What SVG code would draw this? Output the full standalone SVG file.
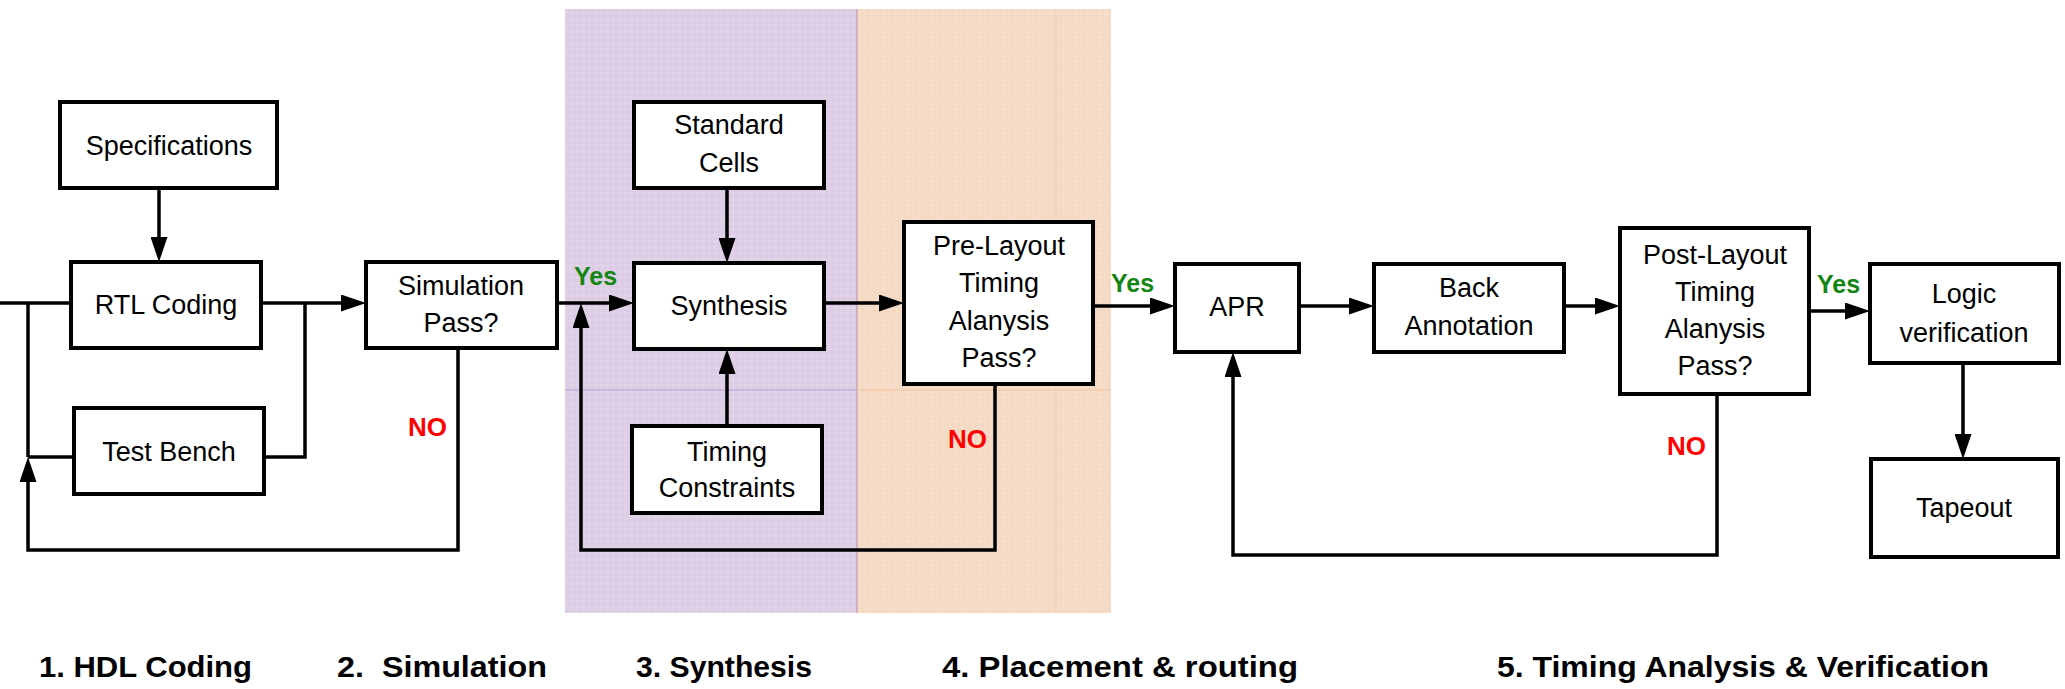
<svg xmlns="http://www.w3.org/2000/svg" width="2065" height="689" viewBox="0 0 2065 689">
  <defs>
    <style>
      .box { fill: #ffffff; stroke: #000000; stroke-width: 4; stroke-linejoin: miter; }
      .lbl { font-family: "Liberation Sans", Arial, sans-serif; font-size: 27px; fill: #000000; text-anchor: middle; }
      .wire { fill: none; stroke: #000000; stroke-width: 3.5; stroke-linejoin: miter; }
      .arrow { marker-end: url(#head); }
      .yes { font-family: "Liberation Sans", Arial, sans-serif; font-size: 25px; font-weight: bold; fill: #128512; }
      .no { font-family: "Liberation Sans", Arial, sans-serif; font-size: 26px; font-weight: bold; fill: #ff0000; }
      .stage { font-family: "Liberation Sans", Arial, sans-serif; font-size: 29px; font-weight: bold; fill: #000000; }
    </style>
    <marker id="head" markerUnits="userSpaceOnUse" markerWidth="25" markerHeight="17" refX="15" refY="8.5" orient="auto">
      <path d="M0,0 L25,8.5 L0,17 Z" fill="#000000"/>
    </marker>
    <pattern id="weave" width="6" height="6" patternUnits="userSpaceOnUse">
      <rect width="3" height="6" fill="#ffffff" opacity="0.07"/>
      <rect width="6" height="3" fill="#ffffff" opacity="0.07"/>
    </pattern>
  </defs>

  <rect width="2065" height="689" fill="#ffffff"/>

  <!-- stage bands: synthesis and placement & routing -->
  <g id="bands">
    <rect x="565" y="9" width="292" height="604" fill="#dbcbe5"/>
    <rect x="857" y="9" width="254" height="604" fill="#f5d8c2"/>
    <rect x="565" y="9" width="546" height="604" fill="url(#weave)"/>
    <line x1="857" y1="9" x2="857" y2="613" stroke="#c9a5bb" stroke-width="1.5"/>
    <line x1="565" y1="390" x2="857" y2="390" stroke="#bba2d8" stroke-width="1"/>
    <line x1="857" y1="390" x2="1111" y2="390" stroke="#f0c29e" stroke-width="1"/>
    <line x1="1056" y1="9" x2="1056" y2="613" stroke="#f2ceb2" stroke-width="1"/>
  </g>

  <!-- connectors -->
  <g id="connectors">
    <path class="wire" d="M0,303 H71"/>
    <path class="wire arrow" d="M159,188 V252"/>
    <path class="wire arrow" d="M261,303 H356"/>
    <path class="wire" d="M305,303 V457 H264"/>
    <path class="wire" d="M74,457 H28"/>
    <path class="wire" d="M28,457 V303"/>
    <path class="wire arrow" d="M458,348 V550 H28 V467"/>
    <path class="wire arrow" d="M557,303 H624"/>
    <path class="wire arrow" d="M995,384 V550 H581 V313"/>
    <path class="wire arrow" d="M727,188 V253"/>
    <path class="wire arrow" d="M727,426 V359"/>
    <path class="wire arrow" d="M824,303 H894"/>
    <path class="wire arrow" d="M1093,306 H1165"/>
    <path class="wire arrow" d="M1299,306 H1364"/>
    <path class="wire arrow" d="M1564,306 H1610"/>
    <path class="wire arrow" d="M1809,311 H1860"/>
    <path class="wire arrow" d="M1963,363 V449"/>
    <path class="wire arrow" d="M1717,394 V555 H1233 V362"/>

    <text class="yes" x="574" y="285">Yes</text>
    <text class="yes" x="1111" y="292">Yes</text>
    <text class="yes" x="1817" y="293">Yes</text>
    <text class="no" x="408" y="436">NO</text>
    <text class="no" x="948" y="448">NO</text>
    <text class="no" x="1667" y="455">NO</text>
  </g>

  <!-- flow nodes -->
  <g id="specifications">
    <rect class="box" x="60" y="102" width="217" height="86"/>
    <text class="lbl" x="169" y="155">Specifications</text>
  </g>
  <g id="rtl-coding">
    <rect class="box" x="71" y="262" width="190" height="86"/>
    <text class="lbl" x="166" y="314">RTL Coding</text>
  </g>
  <g id="test-bench">
    <rect class="box" x="74" y="408" width="190" height="86"/>
    <text class="lbl" x="169" y="461">Test Bench</text>
  </g>
  <g id="simulation">
    <rect class="box" x="366" y="262" width="191" height="86"/>
    <text class="lbl" x="461" y="295">Simulation</text>
    <text class="lbl" x="461" y="332">Pass?</text>
  </g>
  <g id="standard-cells">
    <rect class="box" x="634" y="102" width="190" height="86"/>
    <text class="lbl" x="729" y="134">Standard</text>
    <text class="lbl" x="729" y="172">Cells</text>
  </g>
  <g id="synthesis">
    <rect class="box" x="634" y="263" width="190" height="86"/>
    <text class="lbl" x="729" y="315">Synthesis</text>
  </g>
  <g id="timing-constraints">
    <rect class="box" x="632" y="426" width="190" height="87"/>
    <text class="lbl" x="727" y="461">Timing</text>
    <text class="lbl" x="727" y="497">Constraints</text>
  </g>
  <g id="pre-layout-timing">
    <rect class="box" x="904" y="222" width="189" height="162"/>
    <text class="lbl" x="999" y="255">Pre-Layout</text>
    <text class="lbl" x="999" y="292">Timing</text>
    <text class="lbl" x="999" y="330">Alanysis</text>
    <text class="lbl" x="999" y="367">Pass?</text>
  </g>
  <g id="apr">
    <rect class="box" x="1175" y="264" width="124" height="88"/>
    <text class="lbl" x="1237" y="316">APR</text>
  </g>
  <g id="back-annotation">
    <rect class="box" x="1374" y="264" width="190" height="88"/>
    <text class="lbl" x="1469" y="297">Back</text>
    <text class="lbl" x="1469" y="335">Annotation</text>
  </g>
  <g id="post-layout-timing">
    <rect class="box" x="1620" y="228" width="189" height="166"/>
    <text class="lbl" x="1715" y="264">Post-Layout</text>
    <text class="lbl" x="1715" y="301">Timing</text>
    <text class="lbl" x="1715" y="338">Alanysis</text>
    <text class="lbl" x="1715" y="375">Pass?</text>
  </g>
  <g id="logic-verification">
    <rect class="box" x="1870" y="264" width="189" height="99"/>
    <text class="lbl" x="1964" y="303">Logic</text>
    <text class="lbl" x="1964" y="342">verification</text>
  </g>
  <g id="tapeout">
    <rect class="box" x="1871" y="459" width="187" height="98"/>
    <text class="lbl" x="1964" y="517">Tapeout</text>
  </g>

  <!-- stage captions -->
  <g id="stages">
    <text class="stage" x="39" y="677" textLength="213" lengthAdjust="spacingAndGlyphs">1. HDL Coding</text>
    <text class="stage" x="337" y="677" textLength="210" lengthAdjust="spacingAndGlyphs" xml:space="preserve">2.  Simulation</text>
    <text class="stage" x="636" y="677" textLength="176" lengthAdjust="spacingAndGlyphs">3. Synthesis</text>
    <text class="stage" x="942" y="677" textLength="356" lengthAdjust="spacingAndGlyphs">4. Placement &amp; routing</text>
    <text class="stage" x="1497" y="677" textLength="492" lengthAdjust="spacingAndGlyphs">5. Timing Analysis &amp; Verification</text>
  </g>
</svg>
